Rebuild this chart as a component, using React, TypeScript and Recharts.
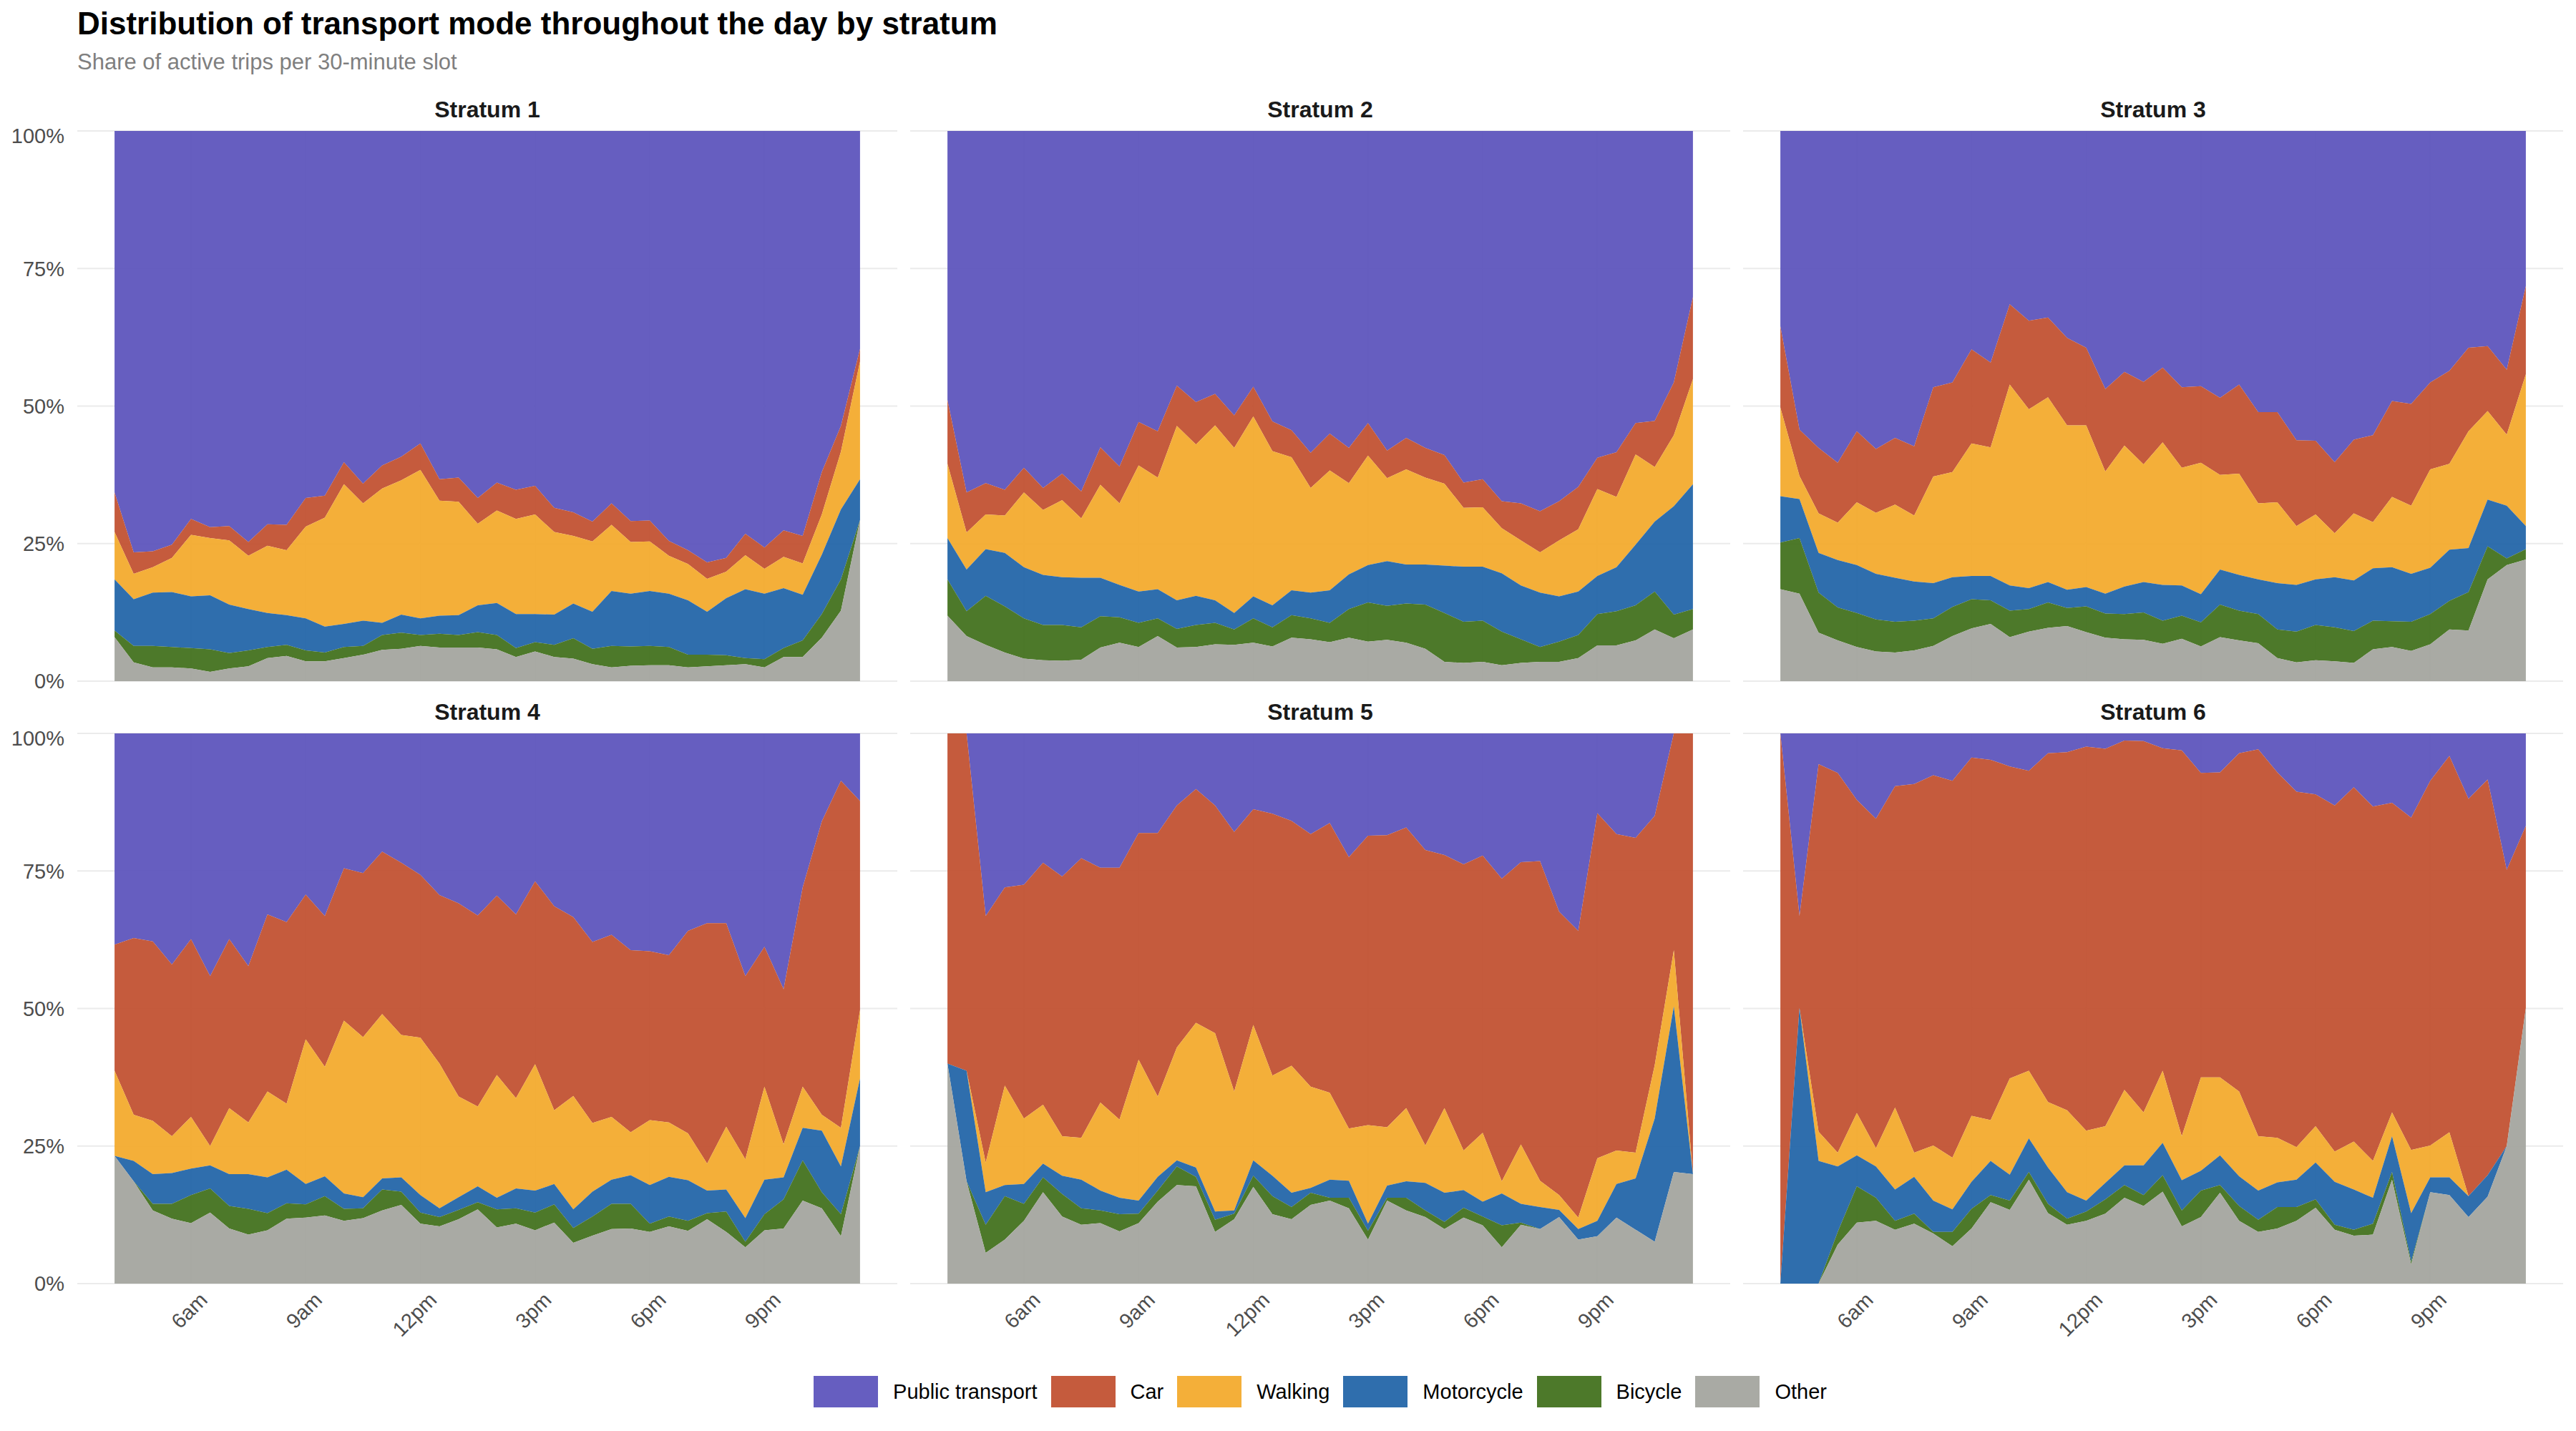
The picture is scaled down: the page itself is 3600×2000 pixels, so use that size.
import { Area, AreaChart, CartesianGrid, XAxis, YAxis } from "recharts";

// 30-minute slots, in hours of the day (4:00 .. 23:30)
const slotHours = [
  4, 4.5, 5, 5.5, 6, 6.5, 7, 7.5, 8, 8.5, 9, 9.5, 10, 10.5, 11, 11.5, 12, 12.5, 13, 13.5,
  14, 14.5, 15, 15.5, 16, 16.5, 17, 17.5, 18, 18.5, 19, 19.5, 20, 20.5, 21, 21.5, 22, 22.5, 23, 23.5,
];

const hourTicks = [6, 9, 12, 15, 18, 21];
const hourTickLabels = ["6am", "9am", "12pm", "3pm", "6pm", "9pm"];
const shareTicks = [0, 25, 50, 75, 100];
const hourDomain = [3.025, 24.475];

const modeNames = ["Public transport", "Car", "Walking", "Motorcycle", "Bicycle", "Other"];
const modeColors = ["#5950BB", "#C04D2D", "#F3A828", "#1D62A6", "#3E6E18", "#A2A39C"];

// cumulative share (%) stacked from "Other" upward, read at each slot;
// everything above the Car line is public transport
const s1Other = [8.0, 3.4, 2.5, 2.5, 2.3, 1.7, 2.3, 2.7, 4.2, 4.6, 3.6, 3.6, 4.2, 4.8, 5.7, 5.9, 6.4, 6.1, 6.1, 6.1, 5.8, 4.4, 5.4, 4.4, 4.1, 3.1, 2.5, 2.8, 2.9, 2.9, 2.5, 2.7, 2.9, 3.1, 2.5, 4.4, 4.4, 7.9, 12.8, 29.3];
const s1Bicycle = [9.2, 6.4, 6.4, 6.2, 6.0, 5.8, 5.1, 5.6, 6.2, 6.6, 5.6, 5.2, 6.2, 6.4, 8.4, 8.8, 8.4, 8.6, 8.4, 8.9, 8.4, 6.0, 7.1, 6.6, 7.8, 5.9, 6.4, 6.3, 6.4, 6.2, 4.8, 4.8, 4.7, 4.2, 4.0, 6.0, 7.4, 12.2, 18.5, 29.3];
const s1Motorcycle = [18.5, 14.9, 16.1, 16.2, 15.4, 15.6, 13.9, 13.1, 12.4, 12.0, 11.4, 9.9, 10.4, 11.0, 10.6, 12.1, 11.4, 11.9, 12.0, 13.8, 14.2, 12.2, 12.2, 12.1, 14.1, 12.6, 16.4, 15.9, 16.4, 15.9, 14.7, 12.6, 15.1, 16.7, 15.9, 16.9, 15.7, 23.0, 31.2, 36.7];
const s1Walking = [27.1, 19.5, 20.7, 22.4, 26.6, 26.0, 25.6, 22.8, 24.6, 23.8, 28.1, 29.7, 35.8, 32.3, 35.0, 36.5, 38.4, 32.8, 32.6, 28.6, 31.0, 29.5, 30.3, 27.1, 26.4, 25.4, 28.4, 25.3, 25.4, 22.8, 21.3, 18.6, 19.9, 22.9, 20.4, 22.6, 21.4, 30.3, 41.7, 58.1];
const s1Car = [34.3, 23.4, 23.6, 24.8, 29.5, 28.0, 28.2, 25.3, 28.5, 28.4, 33.3, 33.7, 39.8, 35.9, 39.2, 40.8, 43.2, 36.7, 37.0, 33.3, 36.1, 34.8, 35.5, 31.5, 30.7, 29.0, 32.3, 29.1, 29.2, 25.5, 23.8, 21.6, 22.4, 26.8, 24.3, 27.4, 26.4, 38.0, 46.4, 60.4];

const s2Other = [11.9, 8.2, 6.6, 5.2, 4.1, 3.8, 3.7, 3.9, 6.1, 7.0, 6.2, 8.2, 6.1, 6.2, 6.7, 6.6, 7.0, 6.3, 7.9, 7.6, 7.1, 7.9, 7.2, 7.5, 7.0, 5.9, 3.5, 3.3, 3.5, 2.9, 3.3, 3.5, 3.5, 4.2, 6.5, 6.5, 7.4, 9.4, 7.8, 9.4];
const s2Bicycle = [18.5, 12.7, 15.5, 13.6, 11.4, 10.2, 10.2, 9.8, 11.8, 11.6, 10.6, 11.4, 9.5, 10.2, 10.6, 9.4, 11.4, 9.8, 12.0, 11.4, 10.6, 13.1, 14.3, 13.7, 14.1, 13.9, 12.4, 10.8, 11.0, 9.0, 7.6, 6.2, 7.2, 8.4, 12.2, 12.7, 13.8, 16.3, 12.1, 13.1];
const s2Motorcycle = [26.0, 20.3, 24.0, 23.3, 20.7, 19.3, 18.9, 18.8, 18.8, 17.5, 16.3, 16.7, 14.7, 15.5, 14.7, 12.4, 15.4, 13.8, 16.5, 16.1, 16.5, 19.4, 21.1, 21.8, 21.2, 21.2, 21.0, 20.8, 20.8, 19.6, 17.4, 16.1, 15.4, 16.3, 19.1, 20.7, 24.8, 29.0, 31.8, 35.8];
const s2Walking = [39.5, 27.0, 30.3, 30.1, 34.3, 31.1, 32.9, 29.6, 35.7, 32.3, 39.2, 37.0, 46.4, 43.0, 46.5, 42.4, 48.1, 41.8, 40.7, 35.1, 38.3, 36.0, 41.0, 36.9, 38.5, 37.0, 35.9, 31.5, 31.6, 27.8, 25.6, 23.4, 25.6, 27.6, 34.9, 33.5, 41.2, 38.9, 44.7, 54.9];
const s2Car = [51.1, 34.3, 36.0, 34.8, 38.8, 35.1, 37.7, 34.5, 42.5, 39.0, 47.1, 45.4, 53.7, 50.7, 52.2, 48.3, 53.5, 47.2, 45.6, 41.5, 45.0, 42.4, 46.9, 41.9, 44.2, 42.4, 41.1, 36.1, 36.7, 32.7, 32.3, 30.9, 32.7, 35.3, 40.6, 41.6, 46.9, 47.3, 54.3, 69.8];

const s3Other = [16.7, 15.9, 8.8, 7.4, 6.2, 5.4, 5.2, 5.6, 6.4, 8.2, 9.6, 10.4, 8.0, 9.0, 9.7, 10.0, 8.9, 7.9, 7.6, 7.5, 6.8, 7.7, 6.3, 8.0, 7.4, 6.9, 4.2, 3.4, 3.8, 3.6, 3.3, 5.8, 6.2, 5.5, 6.7, 9.4, 9.2, 18.5, 21.1, 22.1];
const s3Bicycle = [25.2, 26.0, 16.1, 13.4, 12.4, 11.2, 10.8, 11.0, 11.4, 13.5, 14.9, 14.7, 12.8, 13.1, 14.3, 13.3, 13.6, 12.3, 12.2, 12.5, 11.0, 11.9, 10.7, 13.9, 12.8, 12.2, 9.4, 9.0, 10.2, 9.8, 9.1, 11.0, 10.9, 10.8, 12.2, 14.6, 16.2, 24.5, 22.3, 24.0];
const s3Motorcycle = [33.6, 33.1, 23.3, 22.0, 21.1, 19.5, 18.8, 18.1, 17.8, 18.9, 19.1, 19.1, 17.4, 16.9, 18.0, 16.6, 17.1, 15.9, 17.2, 18.0, 17.5, 17.4, 15.8, 20.3, 19.3, 18.5, 17.8, 17.5, 18.5, 18.9, 18.3, 20.5, 20.7, 19.5, 20.6, 23.9, 24.2, 33.0, 31.9, 28.2];
const s3Walking = [49.7, 37.3, 30.5, 28.8, 32.5, 30.6, 32.1, 30.1, 37.2, 38.0, 43.2, 42.5, 53.9, 49.4, 51.6, 46.5, 46.5, 38.1, 42.8, 39.4, 43.4, 38.8, 39.7, 37.5, 37.7, 32.3, 32.5, 28.2, 30.3, 26.9, 30.5, 28.9, 33.5, 31.9, 38.5, 39.5, 45.4, 49.1, 44.8, 55.8];
const s3Car = [64.5, 45.7, 42.4, 39.7, 45.4, 42.2, 44.2, 42.7, 53.4, 54.3, 60.3, 57.9, 68.5, 65.5, 66.1, 62.4, 60.6, 53.1, 56.2, 54.4, 57.0, 53.4, 53.6, 51.5, 53.9, 48.9, 48.9, 43.8, 43.7, 39.8, 43.9, 44.7, 50.9, 50.4, 54.3, 56.4, 60.6, 60.9, 56.6, 71.8];

const s4Other = [23.2, 18.6, 13.3, 11.8, 11.0, 12.9, 10.0, 8.9, 9.7, 11.8, 12.0, 12.4, 11.4, 11.9, 13.3, 14.3, 10.9, 10.4, 11.7, 13.5, 10.2, 10.9, 9.7, 11.1, 7.4, 8.7, 9.9, 10.0, 9.4, 10.4, 9.6, 11.7, 9.4, 6.6, 9.7, 10.0, 15.1, 13.7, 8.6, 25.0];
const s4Bicycle = [23.2, 18.6, 14.5, 14.5, 16.1, 17.3, 14.1, 13.6, 12.8, 14.6, 14.4, 15.9, 13.6, 13.7, 17.1, 16.7, 12.9, 12.1, 13.4, 14.8, 13.5, 13.7, 12.9, 14.4, 10.1, 12.2, 14.5, 14.5, 10.9, 12.2, 11.4, 12.8, 13.1, 7.6, 12.6, 15.3, 22.4, 16.6, 12.6, 25.0];
const s4Motorcycle = [23.2, 22.3, 19.9, 20.1, 20.9, 21.5, 19.9, 19.9, 19.3, 20.7, 18.1, 19.5, 16.4, 15.7, 19.1, 19.3, 16.1, 13.7, 15.7, 17.7, 15.6, 17.3, 16.9, 18.1, 13.5, 16.7, 18.9, 19.7, 17.9, 19.4, 18.8, 16.9, 17.1, 11.9, 18.9, 19.3, 28.3, 27.8, 21.3, 37.3];
const s4Walking = [38.7, 30.7, 29.6, 26.8, 30.3, 25.0, 31.9, 29.3, 34.9, 32.7, 44.4, 39.4, 47.8, 44.8, 49.0, 45.2, 44.7, 40.0, 34.0, 32.2, 37.9, 33.7, 39.9, 31.5, 34.1, 29.2, 30.3, 27.5, 29.7, 29.3, 27.3, 21.8, 28.5, 22.6, 35.8, 25.3, 35.8, 30.7, 28.3, 49.7];
const s4Car = [61.6, 62.8, 62.2, 58.0, 62.6, 55.9, 62.6, 57.7, 67.1, 65.7, 70.7, 66.8, 75.5, 74.6, 78.5, 76.5, 74.3, 70.6, 69.1, 66.9, 70.5, 67.1, 73.1, 68.6, 66.6, 62.1, 63.4, 60.6, 60.4, 59.7, 64.1, 65.5, 65.5, 55.9, 61.2, 53.5, 72.0, 84.0, 91.4, 87.7];

const s5Other = [40.0, 18.6, 5.6, 8.0, 11.4, 16.6, 12.2, 10.7, 11.0, 9.5, 11.0, 14.9, 17.9, 17.7, 9.4, 11.7, 17.6, 12.6, 11.7, 14.3, 15.1, 13.7, 8.0, 15.1, 13.3, 12.1, 9.9, 12.0, 10.6, 6.6, 10.7, 9.9, 12.1, 8.0, 8.6, 12.0, 9.8, 7.6, 20.3, 19.9];
const s5Bicycle = [40.0, 18.6, 10.7, 15.9, 14.5, 19.3, 16.3, 13.7, 13.3, 12.6, 12.7, 16.9, 21.3, 19.4, 11.6, 12.7, 19.6, 15.9, 13.9, 16.5, 15.6, 15.6, 9.6, 15.6, 15.6, 13.3, 11.2, 13.8, 12.2, 10.6, 11.1, 9.9, 12.1, 8.0, 8.6, 12.0, 9.8, 7.6, 20.3, 19.9];
const s5Motorcycle = [40.0, 38.7, 16.6, 17.9, 18.1, 21.8, 19.6, 18.9, 16.9, 15.6, 15.1, 19.4, 22.4, 21.1, 13.1, 13.3, 22.4, 19.6, 16.5, 17.4, 18.9, 18.7, 10.9, 17.8, 18.6, 18.3, 16.5, 17.0, 14.9, 16.4, 14.5, 13.9, 13.4, 9.9, 11.4, 18.1, 19.1, 30.0, 50.4, 19.9];
const s5Walking = [40.0, 38.7, 22.0, 36.0, 30.0, 32.5, 26.8, 26.5, 32.9, 29.8, 40.7, 34.0, 42.9, 47.4, 45.5, 34.9, 47.0, 37.8, 39.6, 35.8, 34.7, 28.2, 28.8, 28.4, 31.9, 25.1, 31.9, 24.2, 27.4, 18.6, 25.3, 18.7, 16.1, 12.0, 22.8, 24.2, 23.8, 39.7, 60.6, 19.9];
const s5Car = [100, 100, 66.8, 72.0, 72.5, 76.5, 74.0, 77.3, 75.6, 75.6, 81.9, 81.9, 86.9, 89.9, 86.9, 82.1, 86.2, 85.4, 84.1, 81.7, 83.7, 77.5, 81.4, 81.5, 82.9, 78.8, 77.9, 76.2, 77.8, 73.6, 76.6, 76.8, 67.6, 64.1, 85.5, 81.7, 81.0, 85.0, 100, 100];

const s6Other = [0, 0, 0, 7.1, 11.1, 11.4, 9.8, 10.9, 9.1, 6.8, 10.0, 14.8, 13.4, 18.9, 12.8, 10.7, 11.4, 12.7, 15.6, 14.1, 16.7, 10.4, 12.1, 16.5, 11.4, 9.4, 10.0, 11.4, 13.8, 9.8, 8.7, 8.9, 18.9, 3.5, 16.6, 16.1, 12.1, 15.8, 25.0, 50.1];
const s6Bicycle = [0, 0, 0, 9.4, 17.7, 15.6, 11.4, 12.7, 9.4, 9.4, 13.6, 16.1, 15.1, 20.3, 14.5, 11.8, 13.1, 15.3, 17.9, 16.1, 19.7, 13.3, 16.9, 17.9, 14.1, 11.6, 13.9, 13.9, 15.3, 10.7, 9.8, 10.9, 20.3, 4.0, 16.6, 16.1, 12.1, 15.8, 25.0, 50.1];
const s6Motorcycle = [0, 50.1, 22.3, 21.3, 23.3, 21.3, 17.1, 19.4, 15.1, 13.5, 18.5, 22.3, 19.8, 26.4, 21.1, 16.6, 15.1, 18.3, 21.5, 21.5, 25.6, 18.8, 20.5, 23.3, 19.5, 16.9, 18.4, 18.9, 22.0, 18.5, 17.1, 15.6, 26.8, 12.8, 19.3, 19.3, 15.9, 19.7, 25.0, 50.1];
const s6Walking = [0, 50.1, 27.6, 23.8, 31.0, 24.6, 32.0, 23.8, 25.1, 22.9, 30.5, 29.7, 37.3, 38.7, 33.0, 31.5, 27.8, 28.6, 35.2, 31.1, 38.7, 26.8, 37.5, 37.5, 34.9, 26.8, 26.5, 24.8, 28.6, 24.0, 25.8, 22.3, 31.1, 24.3, 25.1, 27.5, 15.9, 19.7, 25.0, 50.1];
const s6Car = [100, 66.8, 94.4, 92.8, 87.9, 84.5, 90.4, 90.8, 92.4, 91.4, 95.6, 95.2, 94.0, 93.2, 96.4, 96.6, 97.6, 97.2, 98.7, 98.6, 97.3, 96.9, 92.8, 92.9, 96.4, 97.1, 92.9, 89.4, 88.9, 86.9, 90.2, 86.7, 87.4, 84.7, 91.4, 95.9, 88.1, 91.6, 75.2, 83.2];

// each mode is drawn as the band between two stacked lines
function buildRows(other: number[], bicycle: number[], motorcycle: number[], walking: number[], car: number[]) {
  return slotHours.map((hour, i) => ({
    hour,
    publicTransport: [car[i], 100],
    car: [walking[i], car[i]],
    walking: [motorcycle[i], walking[i]],
    motorcycle: [bicycle[i], motorcycle[i]],
    bicycle: [other[i], bicycle[i]],
    other: [0, other[i]],
  }));
}

const strata = [
  { name: "Stratum 1", rows: buildRows(s1Other, s1Bicycle, s1Motorcycle, s1Walking, s1Car) },
  { name: "Stratum 2", rows: buildRows(s2Other, s2Bicycle, s2Motorcycle, s2Walking, s2Car) },
  { name: "Stratum 3", rows: buildRows(s3Other, s3Bicycle, s3Motorcycle, s3Walking, s3Car) },
  { name: "Stratum 4", rows: buildRows(s4Other, s4Bicycle, s4Motorcycle, s4Walking, s4Car) },
  { name: "Stratum 5", rows: buildRows(s5Other, s5Bicycle, s5Motorcycle, s5Walking, s5Car) },
  { name: "Stratum 6", rows: buildRows(s6Other, s6Bicycle, s6Motorcycle, s6Walking, s6Car) },
];

const layerKeys = ["publicTransport", "car", "walking", "motorcycle", "bicycle", "other"];

const PANEL_W = 1146;
const PANEL_H = 769;
const COL_X = [108, 1272, 2436];
const ROW_Y = [183, 1025];
const Y_AXIS_W = 108;
const X_AXIS_H = 110;
const FONT = '"Liberation Sans", Arial, Helvetica, sans-serif';

// grid only at the tick values (no lines on the panel edges)
function verticalGrid({ xAxis, offset }: any) {
  if (xAxis && typeof xAxis.scale === "function") return hourTicks.map((t) => xAxis.scale(t));
  const span = hourDomain[1] - hourDomain[0];
  return hourTicks.map((t) => offset.left + ((t - hourDomain[0]) / span) * offset.width);
}

function horizontalGrid({ yAxis, offset }: any) {
  if (yAxis && typeof yAxis.scale === "function") return shareTicks.map((t) => yAxis.scale(t));
  return shareTicks.map((t) => offset.top + (1 - t / 100) * offset.height);
}

function HourTick(props: any) {
  const { x, y, payload } = props;
  const label = hourTickLabels[hourTicks.indexOf(payload.value)];
  return (
    <g transform={`translate(${x + 10},${y})`}>
      <text textAnchor="end" transform="rotate(-45)" dy="0.71em" fill="#4D4D4D" fontSize={29}>
        {label}
      </text>
    </g>
  );
}

function Panel({ name, rows, col, row }: { name: string; rows: any[]; col: number; row: number }) {
  const left = COL_X[col];
  const top = ROW_Y[row];
  const showY = col === 0;
  const showX = row === 1;
  return (
    <>
      <div
        style={{
          position: "absolute",
          left,
          top: top - 46,
          width: PANEL_W,
          textAlign: "center",
          fontWeight: "bold",
          fontSize: 32,
          lineHeight: 1,
          color: "#1A1A1A",
        }}
      >
        {name}
      </div>
      <div style={{ position: "absolute", left: left - Y_AXIS_W, top: top - 10 }}>
        <AreaChart
          width={PANEL_W + Y_AXIS_W + 10}
          height={PANEL_H + 10 + X_AXIS_H}
          data={rows}
          margin={{ top: 10, right: 10, bottom: 0, left: 0 }}
        >
          <CartesianGrid
            stroke="#EBEBEB"
            strokeWidth={2}
            verticalCoordinatesGenerator={verticalGrid}
            horizontalCoordinatesGenerator={horizontalGrid}
          />
          <XAxis
            type="number"
            dataKey="hour"
            domain={hourDomain}
            ticks={hourTicks}
            allowDataOverflow
            axisLine={false}
            tickLine={false}
            tickSize={0}
            tickMargin={10}
            interval={0}
            height={X_AXIS_H}
            tick={showX ? <HourTick /> : false}
          />
          <YAxis
            type="number"
            domain={[0, 100]}
            ticks={shareTicks}
            allowDataOverflow
            axisLine={false}
            tickLine={false}
            tickSize={0}
            tickMargin={18}
            width={Y_AXIS_W}
            tick={showY ? { fill: "#4D4D4D", fontSize: 29 } : false}
            tickFormatter={(v: number) => `${v}%`}
          />
          {layerKeys.map((key, i) => (
            <Area
              key={key}
              dataKey={key}
              name={modeNames[i]}
              type="linear"
              stroke="none"
              fill={modeColors[i]}
              fillOpacity={0.92}
              dot={false}
              activeDot={false}
              isAnimationActive={false}
            />
          ))}
        </AreaChart>
      </div>
    </>
  );
}

export default function App() {
  return (
    <div
      style={{
        position: "absolute",
        left: 0,
        top: 0,
        width: 3600,
        height: 2000,
        background: "#FFFFFF",
        fontFamily: FONT,
        overflow: "hidden",
      }}
    >
      <div
        style={{
          position: "absolute",
          left: 108,
          top: 11,
          fontSize: 44,
          fontWeight: "bold",
          lineHeight: 1,
          color: "#000000",
          whiteSpace: "nowrap",
        }}
      >
        Distribution of transport mode throughout the day by stratum
      </div>
      <div
        style={{
          position: "absolute",
          left: 108,
          top: 71,
          fontSize: 31,
          lineHeight: 1,
          color: "#7F7F7F",
          whiteSpace: "nowrap",
        }}
      >
        Share of active trips per 30-minute slot
      </div>

      {strata.map((s, i) => (
        <Panel key={s.name} name={s.name} rows={s.rows} col={i % 3} row={Math.floor(i / 3)} />
      ))}

      <div
        style={{
          position: "absolute",
          left: 108,
          width: 3474,
          top: 1923,
          height: 44,
          display: "flex",
          justifyContent: "center",
          alignItems: "center",
        }}
      >
        {modeNames.map((m, i) => (
          <div key={m} style={{ display: "flex", alignItems: "center", marginRight: i < modeNames.length - 1 ? 19 : 0 }}>
            <div style={{ width: 90, height: 44, background: modeColors[i], opacity: 0.92, marginRight: 21 }} />
            <span style={{ fontSize: 29, color: "#000000", whiteSpace: "nowrap" }}>{m}</span>
          </div>
        ))}
      </div>
    </div>
  );
}
